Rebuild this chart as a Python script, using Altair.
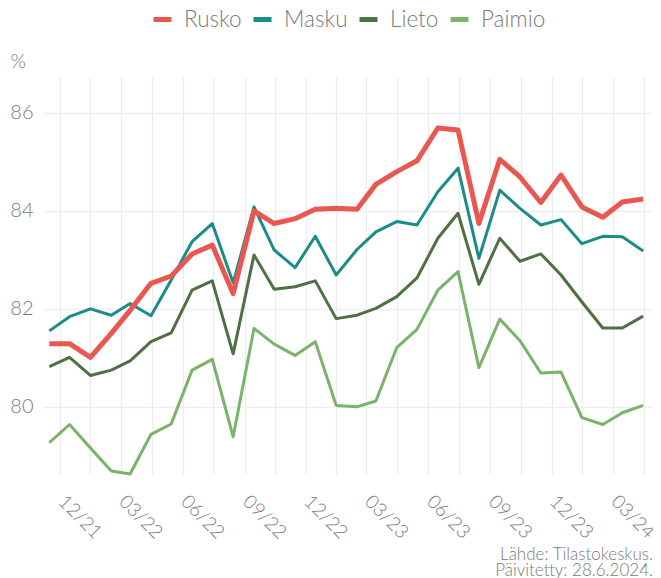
import altair as alt
import pandas as pd

# --- data ---
months = ["2021-11", "2021-12", "2022-01", "2022-02", "2022-03", "2022-04",
          "2022-05", "2022-06", "2022-07", "2022-08", "2022-09", "2022-10",
          "2022-11", "2022-12", "2023-01", "2023-02", "2023-03", "2023-04",
          "2023-05", "2023-06", "2023-07", "2023-08", "2023-09", "2023-10",
          "2023-11", "2023-12", "2024-01", "2024-02", "2024-03", "2024-04"]

series_names = ["Rusko", "Masku", "Lieto", "Paimio"]
series_colors = ["#EA5650", "#1C8C89", "#4F7042", "#7BB36B"]

rusko = [81.29, 81.29, 81.01, 81.50, 81.97, 82.52, 82.67, 83.12, 83.30, 82.31,
         84.00, 83.74, 83.84, 84.03, 84.05, 84.03, 84.54, 84.80, 85.02, 85.69,
         85.65, 83.74, 85.05, 84.69, 84.17, 84.73, 84.08, 83.87, 84.18, 84.24]
masku = [81.55, 81.84, 82.00, 81.87, 82.11, 81.86, 82.59, 83.37, 83.74, 82.53,
         84.08, 83.20, 82.84, 83.48, 82.69, 83.21, 83.57, 83.78, 83.71, 84.39,
         84.87, 83.03, 84.42, 84.05, 83.71, 83.82, 83.33, 83.48, 83.47, 83.18]
lieto = [80.82, 81.01, 80.64, 80.75, 80.94, 81.33, 81.51, 82.38, 82.57, 81.08,
         83.10, 82.40, 82.45, 82.57, 81.80, 81.87, 82.01, 82.25, 82.63, 83.44,
         83.95, 82.50, 83.44, 82.97, 83.12, 82.69, 82.14, 81.61, 81.61, 81.85]
paimio = [79.27, 79.64, 79.16, 78.69, 78.63, 79.44, 79.65, 80.75, 80.97, 79.39,
          81.60, 81.28, 81.05, 81.33, 80.03, 80.00, 80.12, 81.21, 81.58, 82.38,
          82.76, 80.80, 81.79, 81.35, 80.69, 80.71, 79.78, 79.64, 79.88, 80.03]

y_ticks = [80, 82, 84, 86]
caption_source = "Lähde: Tilastokeskus."
caption_updated = "Päivitetty: 28.6.2024."

# --- table ---
rows = []
for name, vals in zip(series_names, [rusko, masku, lieto, paimio]):
    for m, v in zip(months, vals):
        rows.append({"date": m + "-15", "kunta": name, "value": v})
df = pd.DataFrame(rows)

FONT = "Lato"
GREY = "#7a7a7a"

# axis tick / grid positions: quarter starts (labelled) and mid-points (grid only)
x_values = []
for yr in [2021, 2022, 2023, 2024]:
    for mo, d in [(1, 15), (3, 1), (4, 16), (6, 1), (7, 16), (9, 1), (10, 16), (12, 1)]:
        if (yr, mo) < (2021, 12) or (yr, mo) > (2024, 4):
            continue
        x_values.append(alt.DateTime(year=yr, month=mo, date=d))

x_enc = alt.X(
    "date:T",
    scale=alt.Scale(domain=[alt.DateTime(year=2021, month=11, date=5, hours=14),
                            alt.DateTime(year=2024, month=4, date=29, hours=14)]),
    axis=alt.Axis(
        values=x_values,
        labelExpr="date(datum.value) == 1 ? timeFormat(datum.value, '%m/%y') : ''",
        title=None, domain=False, ticks=False, grid=True,
        gridColor="#ececec", gridWidth=1.2,
        labelFont=FONT, labelFontWeight=300, labelFontSize=19, labelColor=GREY,
        labelAngle=45, labelAlign="left", labelBaseline="middle", labelPadding=24,
        labelOffset=1, labelOverlap=False, labelFlush=False,
    ),
)

y_enc = alt.Y(
    "value:Q",
    scale=alt.Scale(domain=[78.63, 86.73], nice=False, zero=False),
    axis=alt.Axis(
        values=y_ticks, title="%", titleAngle=0, titleX=-33, titleY=-10,
        titleAlign="left", titleBaseline="alphabetic", titleFont=FONT,
        titleFontWeight=300, titleFontSize=20, titleColor=GREY,
        domain=False, ticks=False, grid=True, gridColor="#efefef", gridWidth=1.5,
        labelFont=FONT, labelFontWeight=300, labelFontSize=20, labelColor=GREY,
        labelPadding=10,
    ),
)

color_enc = alt.Color(
    "kunta:N",
    scale=alt.Scale(domain=series_names, range=series_colors),
    sort=series_names,
    legend=alt.Legend(
        orient="none", legendX=108, legendY=-69, direction="horizontal",
        title=None, symbolType="stroke", symbolSize=324, symbolStrokeWidth=5,
        labelFont=FONT, labelFontWeight=300, labelFontSize=22.5, labelColor=GREY,
        labelOffset=10, columnPadding=1,
    ),
)

others = alt.Chart(df).transform_filter(
    alt.datum.kunta != "Rusko"
).mark_line(strokeWidth=3, strokeJoin="round").encode(
    x=x_enc, y=y_enc, color=color_enc, detail="kunta:N"
)

rusko_line = alt.Chart(df).transform_filter(
    alt.datum.kunta == "Rusko"
).mark_line(strokeWidth=5, strokeJoin="round").encode(
    x=x_enc, y=y_enc, color=color_enc
)

cap_df = pd.DataFrame({"t": [0]})
cap_style = dict(align="right", baseline="alphabetic", font=FONT,
                 fontWeight=300, fontSize=17, color=GREY)
caption1 = alt.Chart(cap_df).mark_text(text=caption_source, **cap_style).encode(
    x=alt.value(610), y=alt.value(483))
caption2 = alt.Chart(cap_df).mark_text(text=caption_updated, **cap_style).encode(
    x=alt.value(610), y=alt.value(499))

chart = alt.layer(others, rusko_line, caption1, caption2).properties(
    width=610, height=397,
    autosize=alt.AutoSizeParams(type="none"),
    padding={"left": 35, "top": 69, "right": 0, "bottom": 110},
).configure_view(stroke=None)

chart.save("out.html", embed_options={"renderer": "svg", "actions": False})
